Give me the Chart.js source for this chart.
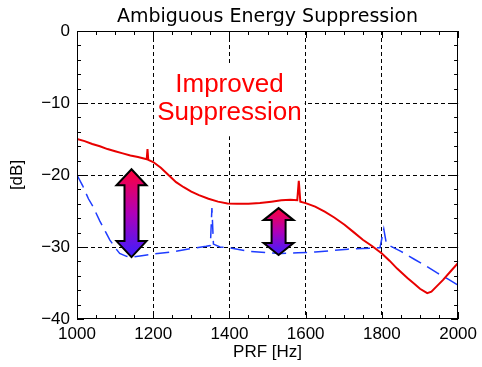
<!DOCTYPE html>
<html>
<head>
<meta charset="utf-8">
<script src="https://cdn.jsdelivr.net/npm/chart.js@4.4.0/dist/chart.umd.min.js"></script>
<style>
    html, body { margin: 0; padding: 0; background: #fff; }
    #wrap { width: 482px; height: 367px; }
</style>
</head>
<body>
<div id="wrap"><canvas id="chart"></canvas></div>
<script>
// PRF [Hz] vs suppression [dB]
const improvedX = [1000, 1020, 1040, 1060, 1080, 1100, 1120, 1140, 1160, 1183, 1185, 1187, 1200, 1220, 1240, 1260, 1280, 1300, 1320, 1345, 1370, 1395, 1420, 1450, 1480, 1510, 1536, 1560, 1578, 1582, 1586, 1600, 1625, 1650, 1675, 1702, 1725, 1750, 1775, 1800, 1820, 1840, 1867, 1885, 1900, 1919, 1930, 1945, 1960, 1980, 2000];
const improvedY = [-15.0, -15.3, -15.7, -16.0, -16.4, -16.7, -17.0, -17.3, -17.5, -17.8, -16.4, -17.9, -18.2, -19.0, -20.0, -21.0, -21.7, -22.3, -22.8, -23.3, -23.7, -23.95, -24.0, -24.0, -23.9, -23.7, -23.5, -23.45, -23.5, -20.8, -23.7, -23.9, -24.4, -25.1, -25.9, -26.9, -27.9, -29.0, -29.9, -30.9, -31.9, -33.0, -34.3, -35.1, -35.8, -36.4, -36.2, -35.4, -34.6, -33.4, -32.2];

const baseX = [1000, 1015, 1030, 1042, 1060, 1075, 1086, 1100, 1112, 1130, 1146, 1170, 1198, 1230, 1260, 1300, 1339, 1350, 1354, 1358, 1375, 1400, 1450, 1500, 1536, 1580, 1625, 1670, 1711, 1750, 1795, 1805, 1812, 1850, 1885, 1915, 1945, 1975, 2000];
const baseY = [-20.0, -21.5, -23.3, -24.4, -26.4, -27.9, -29.0, -30.1, -30.9, -31.3, -31.4, -31.2, -31.0, -30.8, -30.6, -30.2, -29.9, -29.8, -24.6, -29.6, -30.0, -30.1, -30.6, -30.8, -30.9, -30.8, -30.7, -30.5, -30.3, -30.2, -30.1, -27.5, -29.6, -30.6, -31.7, -32.6, -33.6, -34.5, -35.3];

// double arrows: x position, top and bottom in dB
const arrowX = [1143, 1529];
const arrowTop = [-19.2, -24.6];
const arrowBottom = [-31.4, -31.1];

const titleText = 'Ambiguous Energy Suppression';
const noteLines = ['Improved', 'Suppression'];
const noteX = 1400;
const noteY = [-8.5, -12.4];

const xTicks = [1000, 1200, 1400, 1600, 1800, 2000];
const yTicks = [0, -10, -20, -30, -40];

function toPoints(xs, ys) {
    return xs.map((x, i) => ({ x: x, y: ys[i] }));
}

const gridColor = function(ctx) {
    const v = ctx.tick.value;
    return (v === ctx.scale.min || v === ctx.scale.max) ? 'rgba(0,0,0,0)' : '#000';
};

const notePlugin = {
    id: 'note',
    beforeDatasetsDraw(chart) {
        const c = chart.ctx, xs = chart.scales.x, ys = chart.scales.y;
        const a = chart.chartArea;
        c.save();
        // title, centred over the plot box
        c.font = '19px "DejaVu Sans", sans-serif';
        c.fillStyle = '#000';
        c.textAlign = 'center';
        c.textBaseline = 'alphabetic';
        c.fillText(titleText, (a.left + a.right) / 2, 22);

        c.font = '26px "Liberation Sans", Arial, sans-serif';
        const w = Math.max(...noteLines.map(t => c.measureText(t).width));
        const cx = xs.getPixelForValue(noteX);
        const b1 = ys.getPixelForValue(noteY[0]);
        const b2 = ys.getPixelForValue(noteY[1]);
        c.fillStyle = '#fff';
        c.fillRect(cx - w / 2 - 3, b1 - 29, w + 6, b2 - b1 + 45);
        c.fillStyle = '#ff0000';
        c.fillText(noteLines[0], cx, b1);
        c.fillText(noteLines[1], cx, b2);
        c.restore();
    }
};

const framePlugin = {
    id: 'frame',
    afterDatasetsDraw(chart) {
        const c = chart.ctx, xs = chart.scales.x, ys = chart.scales.y;
        const a = chart.chartArea;

        // arrows
        const heads = [16, 12];
        arrowX.forEach((xv, i) => {
            const cx = xs.getPixelForValue(xv);
            const t = ys.getPixelForValue(arrowTop[i]);
            const b = ys.getPixelForValue(arrowBottom[i]);
            const hw = 15, sw = 7, hh = heads[i];
            const g = c.createLinearGradient(0, t, 0, b);
            g.addColorStop(0, '#ff0038');
            g.addColorStop(0.5, '#b000b8');
            g.addColorStop(1, '#3c1eff');
            c.save();
            c.beginPath();
            c.moveTo(cx, t);
            c.lineTo(cx + hw, t + hh);
            c.lineTo(cx + sw, t + hh);
            c.lineTo(cx + sw, b - hh);
            c.lineTo(cx + hw, b - hh);
            c.lineTo(cx, b);
            c.lineTo(cx - hw, b - hh);
            c.lineTo(cx - sw, b - hh);
            c.lineTo(cx - sw, t + hh);
            c.lineTo(cx - hw, t + hh);
            c.closePath();
            c.fillStyle = g;
            c.fill();
            c.lineWidth = 2;
            c.lineJoin = 'miter';
            c.strokeStyle = '#000';
            c.stroke();
            c.restore();
        });

        // box and inward ticks on all sides
        c.save();
        c.strokeStyle = '#000';
        c.lineWidth = 1;
        c.strokeRect(Math.round(a.left) + 0.5, Math.round(a.top) + 0.5, Math.round(a.right - a.left) - 1, Math.round(a.bottom - a.top) - 1);
        c.beginPath();
        for (let v = 1000; v <= 2000; v += 50) {
            const px = Math.round(xs.getPixelForValue(v)) + 0.5;
            const len = (v % 200 === 0) ? 7 : 4;
            c.moveTo(px, a.bottom); c.lineTo(px, a.bottom - len);
            c.moveTo(px, a.top); c.lineTo(px, a.top + len);
        }
        for (let v = 0; v >= -40; v -= 2) {
            const py = Math.round(ys.getPixelForValue(v)) + 0.5;
            const len = (v % 10 === 0) ? 7 : 4;
            c.moveTo(a.left, py); c.lineTo(a.left + len, py);
            c.moveTo(a.right, py); c.lineTo(a.right - len, py);
        }
        c.stroke();
        c.restore();
    }
};

const ctx = document.getElementById('chart').getContext('2d');
new Chart(ctx, {
    type: 'line',
    data: {
        datasets: [{
            label: 'Improved',
            data: toPoints(improvedX, improvedY),
            borderColor: 'rgb(232,0,0)',
            borderWidth: 2,
            pointRadius: 0,
            tension: 0,
            fill: false
        }, {
            label: 'Baseline',
            data: toPoints(baseX, baseY),
            borderColor: 'rgb(30,60,255)',
            borderWidth: 1.5,
            borderDash: [14, 7],
            pointRadius: 0,
            tension: 0,
            fill: false
        }]
    },
    options: {
        responsive: true,
        maintainAspectRatio: false,
        animation: false,
        layout: { padding: { left: 0, right: 21, top: 31, bottom: 0 } },
        plugins: {
            legend: { display: false },
            tooltip: { enabled: false },
            title: { display: false }
        },
        scales: {
            x: {
                type: 'linear',
                min: 1000,
                max: 2000,
                afterBuildTicks: s => { s.ticks = xTicks.map(v => ({ value: v })); },
                afterFit: s => { s.height = 48; },
                ticks: {
                    color: '#000',
                    padding: 5,
                    maxRotation: 0,
                    font: { family: '"Liberation Sans", Arial, sans-serif', size: 17 },
                    callback: v => String(v)
                },
                grid: { color: gridColor, drawTicks: false, lineWidth: 1 },
                border: { display: false, dash: [4, 3] },
                title: {
                    display: true,
                    text: 'PRF [Hz]',
                    color: '#000',
                    font: { family: '"Liberation Sans", Arial, sans-serif', size: 17, lineHeight: 1.2 },
                    padding: { top: 0, bottom: 4 }
                }
            },
            y: {
                min: -40,
                max: 0,
                afterBuildTicks: s => { s.ticks = yTicks.map(v => ({ value: v })); },
                afterFit: s => { s.width = 77; },
                ticks: {
                    color: '#000',
                    padding: 7,
                    font: { family: '"Liberation Sans", Arial, sans-serif', size: 17 },
                    callback: v => String(v).replace('-', '\u2212')
                },
                grid: { color: gridColor, drawTicks: false, lineWidth: 1 },
                border: { display: false, dash: [4, 3] },
                title: {
                    display: true,
                    text: '[dB]',
                    color: '#000',
                    font: { family: '"Liberation Sans", Arial, sans-serif', size: 17, lineHeight: 1.2 },
                    padding: { top: 7, bottom: 0 }
                }
            }
        }
    },
    plugins: [notePlugin, framePlugin]
});
</script>
</body>
</html>
